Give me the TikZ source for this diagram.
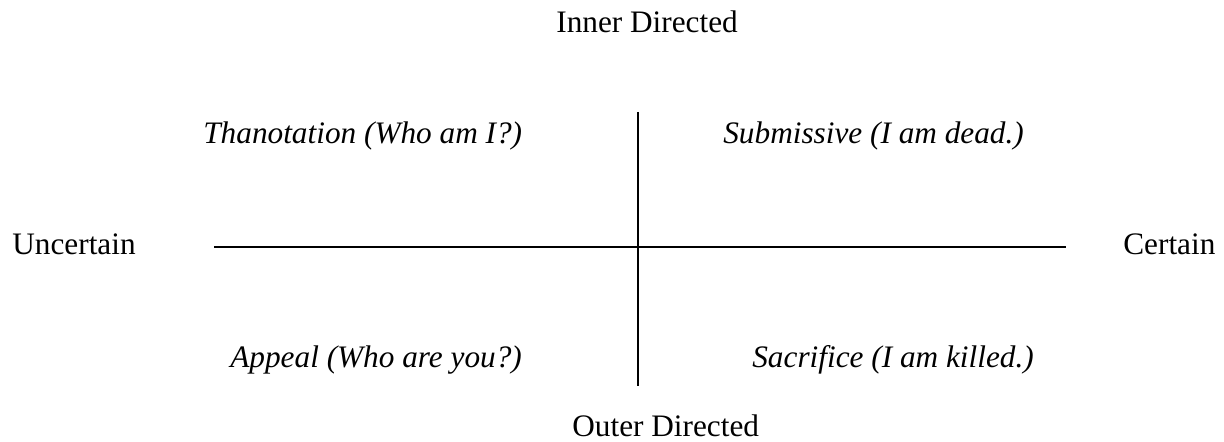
\documentclass[tikz,border=0pt]{standalone}
\usepackage{fontspec}
\setmainfont{Liberation Serif}
\usepackage{tikz}
\usetikzlibrary{positioning}

\begin{document}
\begin{tikzpicture}[x=0.02cm, y=-0.02cm, font=\fontsize{17.8pt}{21pt}\selectfont]
  % Quadrant chart: 1 unit = 1 px of the page
  \tikzset{
    axislabel/.style={anchor=base west, inner sep=0pt},
    quadlabel/.style={anchor=base west, inner sep=0pt, font=\fontsize{17.8pt}{21pt}\selectfont\itshape},
    axisline/.style={line width=1.1pt}
  }
  \useasboundingbox (0,0) rectangle (1224,442);

  % Axes
  \coordinate (top) at (638,112);
  \coordinate (bottom) at (638,386);
  \coordinate (left) at (214,247);
  \coordinate (right) at (1066,247);
  \draw[axisline] (top) -- (bottom);
  \draw[axisline] (left) -- (right);

  % Axis ends
  \node[axislabel] (inner) at (556,33) {Inner Directed};
  \node[axislabel] (outer) at (572,436) {Outer Directed};
  \node[axislabel] (uncertain) at (12,255) {Uncertain};
  \node[axislabel] (certain) at (1123,255) {Certain};

  % Quadrants
  \node[quadlabel] (thanotation) at (203,144) {Thanotation (Who am I?)};
  \node[quadlabel] (submissive) at (723,144) {Submissive (I am dead.)};
  \node[quadlabel] (appeal) at (230,367) {Appeal (Who are you?)};
  \node[quadlabel] (sacrifice) at (752,367) {Sacrifice (I am killed.)};
\end{tikzpicture}
\end{document}
